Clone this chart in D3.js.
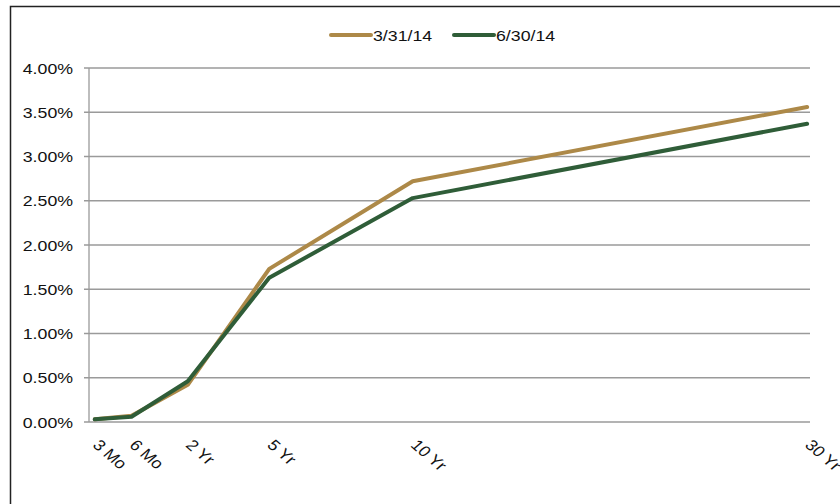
<!DOCTYPE html>
<html>
<head>
<meta charset="utf-8">
<script src="https://cdn.jsdelivr.net/npm/d3@7"></script>
<style>
  body { margin: 0; background: #fff; }
  svg text { font-family: "Liberation Sans", Arial, sans-serif; fill: #111; }
</style>
</head>
<body>
<div id="chart"></div>
<script>
// Data
var tenors = ["3 Mo", "6 Mo", "2 Yr", "5 Yr", "10 Yr", "30 Yr"];
var tenorYears = [0.25, 0.5, 2, 5, 10, 30];
var mar14 = [0.03, 0.07, 0.42, 1.73, 2.72, 3.56];
var jun14 = [0.03, 0.06, 0.46, 1.63, 2.53, 3.37];
var seriesNames = ["3/31/14", "6/30/14"];
var yTicks = [0, 0.5, 1, 1.5, 2, 2.5, 3, 3.5, 4];

var colors = ["#AD8948", "#2F5D38"];
var stretch = 1.16; // text looks horizontally stretched in the reference
var fontSize = "15.3px";

var width = 840, height = 504;
var margin = {top: 68, right: 30, bottom: 82, left: 89};
var w = width - margin.left - margin.right;
var h = height - margin.top - margin.bottom;

var svg = d3.select("#chart")
  .append("svg")
  .attr("width", width)
  .attr("height", height);

// outer frame
svg.append("rect")
  .attr("x", 10.5).attr("y", 6.5)
  .attr("width", 900).attr("height", 600)
  .attr("fill", "none")
  .attr("stroke", "#222")
  .attr("stroke-width", 1.5);

var g = svg.append("g")
  .attr("transform", "translate(" + margin.left + "," + margin.top + ")");

// tenor spacing on the axis is uneven, as in the original
var tenorSpots = [0.008, 0.059, 0.137, 0.25, 0.449, 0.996];
var x = d3.scaleLinear()
  .domain(tenorYears)
  .range(tenorSpots.map(function(f) { return f * w; }));
var y = d3.scaleLinear().domain([0, 4]).range([h, 0]);

// gridlines
g.selectAll(".grid")
  .data(yTicks)
  .enter().append("line")
  .attr("x1", -5).attr("x2", w)
  .attr("y1", function(d) { return y(d); })
  .attr("y2", function(d) { return y(d); })
  .attr("stroke", "#9a9a9a")
  .attr("stroke-width", 1.3);

// y axis line
g.append("line")
  .attr("x1", 0).attr("x2", 0)
  .attr("y1", 0).attr("y2", h)
  .attr("stroke", "#9a9a9a")
  .attr("stroke-width", 1.3);

// y labels
g.selectAll(".ylab")
  .data(yTicks)
  .enter().append("text")
  .attr("transform", function(d) {
    return "translate(-16," + y(d) + ") scale(" + stretch + ",1)";
  })
  .attr("dy", "0.36em")
  .attr("text-anchor", "end")
  .style("font-size", fontSize)
  .text(function(d) { return d3.format(".2f")(d) + "%"; });

// x labels, rotated
g.selectAll(".xlab")
  .data(tenors)
  .enter().append("text")
  .attr("transform", function(d, i) {
    return "translate(" + (x(tenorYears[i]) - 3) + "," + (h + 24) + ") scale(" + stretch + ",1) rotate(45)";
  })
  .attr("text-anchor", "start")
  .style("font-size", fontSize)
  .text(function(d) { return d; });

// lines
var line = d3.line()
  .x(function(d, i) { return x(tenorYears[i]); })
  .y(function(d) { return y(d); });

[mar14, jun14].forEach(function(vals, k) {
  g.append("path")
    .attr("fill", "none")
    .attr("stroke", colors[k])
    .attr("stroke-width", 4)
    .attr("stroke-linecap", "round")
    .attr("stroke-linejoin", "round")
    .attr("d", line(vals));
});

// Legend
var legendX = [331, 454];
seriesNames.forEach(function(name, k) {
  var lg = svg.append("g").attr("transform", "translate(" + legendX[k] + ",35)");
  lg.append("line")
    .attr("x1", 0).attr("x2", 40)
    .attr("y1", 0).attr("y2", 0)
    .attr("stroke", colors[k])
    .attr("stroke-width", 4)
    .attr("stroke-linecap", "round");
  lg.append("text")
    .attr("transform", "translate(42,0) scale(" + stretch + ",1)")
    .attr("dy", "0.36em")
    .style("font-size", fontSize)
    .text(name);
});
</script>
</body>
</html>
